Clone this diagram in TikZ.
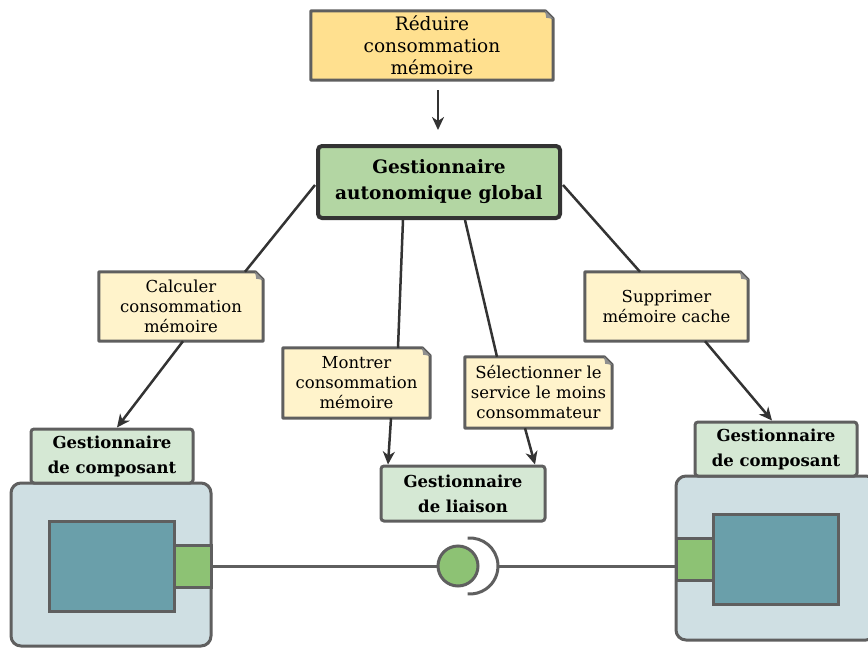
\documentclass[tikz,border=0pt]{standalone}
\usepackage{fontspec}
\setmainfont{DejaVu Serif}
\usetikzlibrary{arrows.meta,backgrounds,calc}
\definecolor{topfill}{HTML}{FFE08F}
\definecolor{notefill}{HTML}{FFF3CB}
\definecolor{mainfill}{HTML}{B3D6A3}
\definecolor{lgreen}{HTML}{D5E8D4}
\definecolor{compbg}{HTML}{CFDFE3}
\definecolor{innerc}{HTML}{6A9FAA}
\definecolor{portc}{HTML}{8DC274}
\definecolor{bgray}{HTML}{5F5F5F}
\definecolor{dline}{HTML}{333333}
\newcommand\drawnote[2]{%
  \fill[#2] (#1.north west) -- ([xshift=-8pt]#1.north east) -- ([yshift=-8pt]#1.north east) -- (#1.south east) -- (#1.south west) -- cycle;
  \draw[bgray,line width=3pt,line join=round] (#1.north west) -- ([xshift=-8pt]#1.north east) -- ([yshift=-8pt]#1.north east) -- (#1.south east) -- (#1.south west) -- cycle;
  \fill[bgray!70] ([xshift=-8pt]#1.north east) -- ([xshift=-7pt,yshift=-7pt]#1.north east) -- ([yshift=-8pt]#1.north east) -- cycle;}
\begin{document}
\begin{tikzpicture}[x=1pt,y=-1pt,
  notetext/.style={inner sep=0pt,align=center,font=\fontsize{16.5}{20}\selectfont},
  mgr/.style={draw=bgray,line width=3pt,fill=lgreen,rounded corners=3pt,inner sep=0pt,align=center,font=\bfseries\fontsize{16.5}{25}\selectfont},
  conn/.style={dline,line width=2.5pt},
  arr/.style={conn,-{Stealth[length=13pt,width=12pt,inset=4pt]}},
  blk/.style={draw=bgray,line width=3pt,inner sep=0pt}]
\useasboundingbox (0,0) rectangle (868,648);
% notes
\node[notetext,minimum width=242pt,minimum height=69pt,font=\fontsize{18.5}{22}\selectfont] (top) at (432,45.5) {Réduire\\consommation\\mémoire};
\node[notetext,minimum width=164pt,minimum height=69pt] (calc) at (181,306.5) {Calculer\\consommation\\mémoire};
\node[notetext,minimum width=147pt,minimum height=70pt] (montrer) at (356.5,383) {Montrer\\consommation\\mémoire};
\node[notetext,minimum width=147pt,minimum height=71pt] (select) at (538.5,392.5) {Sélectionner le\\service le moins\\consommateur};
\node[notetext,minimum width=163pt,minimum height=69pt] (suppr) at (666.5,306.5) {Supprimer\\mémoire cache};
\begin{scope}[on background layer]
  \drawnote{top}{topfill}
  \drawnote{calc}{notefill}
  \drawnote{montrer}{notefill}
  \drawnote{select}{notefill}
  \drawnote{suppr}{notefill}
\end{scope}
% main manager
\node[draw=dline,line width=4pt,fill=mainfill,rounded corners=4pt,inner sep=0pt,align=center,
  minimum width=242pt,minimum height=72pt,font=\bfseries\fontsize{18.5}{26}\selectfont] (main) at (439,182) {Gestionnaire\\autonomique global};
% managers
\node[mgr,minimum width=164pt,minimum height=55pt] (liaison) at (463,493.5) {Gestionnaire\\de liaison};
% components
\node[blk,fill=compbg,rounded corners=10pt,minimum width=200pt,minimum height=163pt] (compL) at (111,564.5) {};
\node[blk,fill=compbg,rounded corners=10pt,minimum width=200pt,minimum height=164pt] (compR) at (776,558) {};
\node[mgr,minimum width=162pt,minimum height=54pt] (gcL) at (112,456) {Gestionnaire\\de composant};
\node[mgr,minimum width=162pt,minimum height=54pt] (gcR) at (776,449) {Gestionnaire\\de composant};
\node[blk,fill=innerc,minimum width=125pt,minimum height=90pt] (innerL) at (111.5,566) {};
\node[blk,fill=portc,minimum width=37pt,minimum height=42pt] (portL) at (192.5,566) {};
\node[blk,fill=innerc,minimum width=125pt,minimum height=90pt] (innerR) at (775.5,559) {};
\node[blk,fill=portc,minimum width=37pt,minimum height=42pt] (portR) at (694.5,559) {};
% provided / required interface
\node[circle,draw=bgray,line width=3pt,fill=portc,minimum size=40pt,inner sep=0pt] (prov) at (458,566) {};
\coordinate (sockc) at (470,566);
\coordinate (sockE) at (498,566);
\draw[bgray,line width=3pt] ($(sockc)+(-95:28)$) arc[start angle=-95,end angle=95,radius=28];
\draw[bgray,line width=3pt] (portL.east) -- (prov.west);
\draw[bgray,line width=3pt] (sockE) -- (portR.west |- sockE);
% connectors
\draw[arr,shorten <=10pt,shorten >=14pt] ([xshift=6pt]top.south) -- ([xshift=-1pt]main.north);
\draw[conn] ([xshift=-1pt,yshift=-3pt]main.west) -- ([xshift=64pt]calc.north);
\draw[arr] ([xshift=2pt]calc.south) -- ([xshift=5pt]gcL.north);
\draw[conn] ([xshift=-36pt]main.south) -- ([xshift=41.5pt]montrer.north);
\draw[arr] ([xshift=34.5pt]montrer.south) -- ([xshift=-75pt]liaison.north);
\draw[conn] ([xshift=26pt]main.south) -- ([xshift=-41.5pt]select.north);
\draw[arr] ([xshift=-13.5pt]select.south) -- ([xshift=72pt]liaison.north);
\draw[conn] ([xshift=1pt,yshift=-3pt]main.east) -- ([xshift=-26.5pt]suppr.north);
\draw[arr] ([xshift=38.5pt]suppr.south) -- ([xshift=-4pt]gcR.north);
\end{tikzpicture}
\end{document}
